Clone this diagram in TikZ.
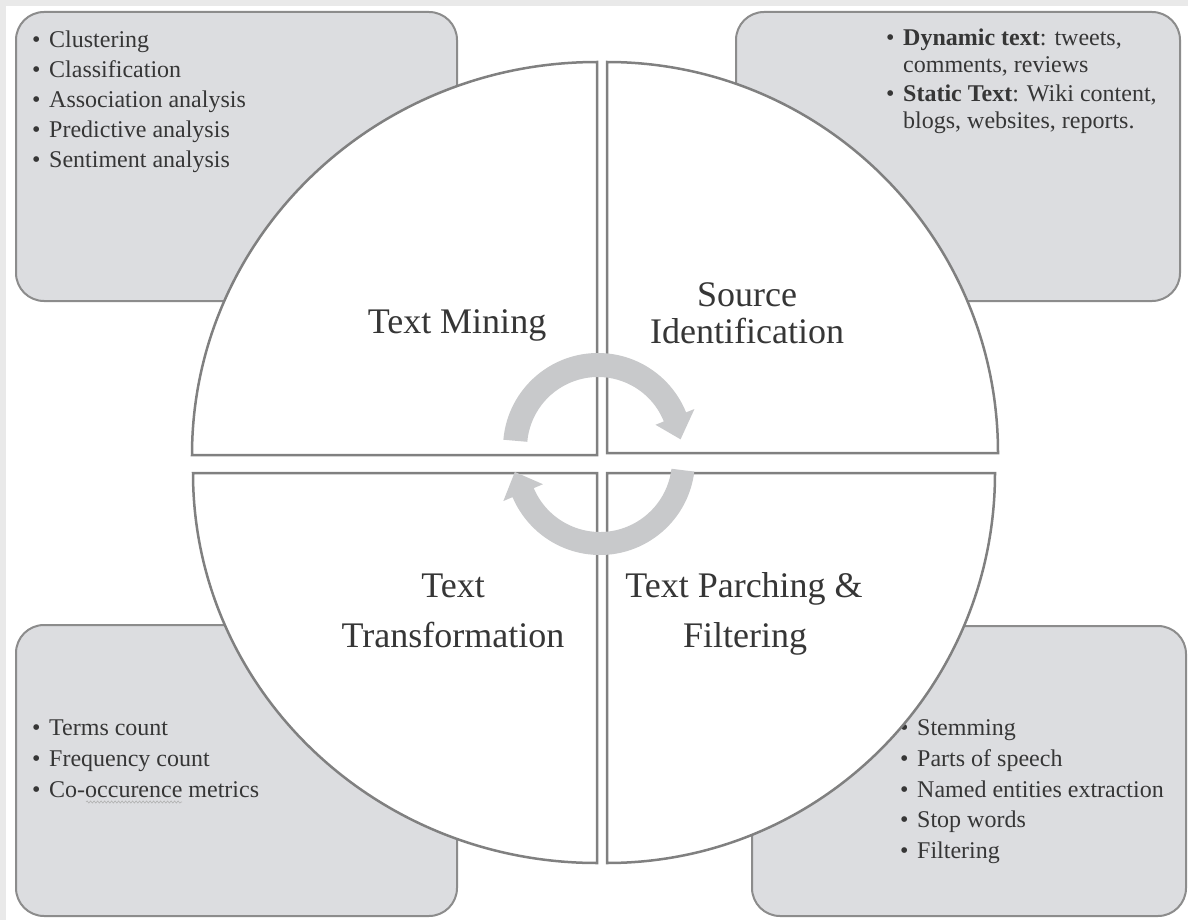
\documentclass[tikz,border=0pt]{standalone}
\usepackage{fontspec}
\setmainfont{Liberation Serif}
\usetikzlibrary{decorations.pathmorphing}
\definecolor{boxfill}{HTML}{DCDDE0}
\definecolor{boxline}{HTML}{8C8C8C}
\definecolor{quadline}{HTML}{808080}
\definecolor{arrowfill}{HTML}{C8C9CB}
\definecolor{txt}{HTML}{363636}
\definecolor{band}{HTML}{E9E9E9}
\newcommand\blt{\makebox[17pt][l]{\textbullet}}
\begin{document}
\begin{tikzpicture}[x=1pt,y=1pt,
  infobox/.style={draw=boxline, line width=2pt, fill=boxfill, rounded corners=28pt},
  quad/.style={draw=quadline, line width=2.5pt, fill=white, line join=miter},
  cyc/.style={fill=arrowfill},
  item/.style={anchor=base west, inner sep=0pt, text=txt, font=\fontsize{24}{28}\selectfont},
  big/.style={anchor=base, inner sep=0pt, text=txt, font=\fontsize{36}{40}\selectfont},
  spell/.style={draw=gray!60, line width=0.6pt, decorate, decoration={snake, amplitude=1.1pt, segment length=3.5pt}}]
\useasboundingbox (0,0) rectangle (1188,-920);
\fill[white] (0,0) rectangle (1188,-920);
\fill[band] (0,0) rectangle (1188,-6);
\fill[band] (0,0) rectangle (6,-920);

% corner boxes
\draw[infobox] (16,-12) rectangle (457,-301);
\draw[infobox] (736,-12) rectangle (1180,-301);
\draw[infobox] (16,-625) rectangle (457,-916);
\draw[infobox] (752,-626) rectangle (1186,-916);

% top-left list
\node[item] (tl1) at (32,-48) {\blt Clustering};
\node[item] (tl2) at (32,-78) {\blt Classification};
\node[item] (tl3) at (32,-108) {\blt Association analysis};
\node[item] (tl4) at (32,-138) {\blt Predictive analysis};
\node[item] (tl5) at (32,-168) {\blt Sentiment analysis};

% top-right list
\node[item] (tr1) at (886,-46) {\blt\textbf{Dynamic text}: tweets,};
\node[item] (tr2) at (903,-73) {comments, reviews};
\node[item] (tr3) at (886,-102) {\blt\textbf{Static Text}: Wiki content,};
\node[item] (tr4) at (903,-129) {blogs, websites, reports.};

% bottom-left list
\node[item] (bl1) at (32,-735) {\blt Terms count};
\node[item] (bl2) at (32,-766) {\blt Frequency count};
\node[item] (bl3) at (32,-797) {\blt Co-occurence metrics};
\draw[spell] (86,-802) -- (182,-802);

% bottom-right list
\node[item] (br1) at (900,-735) {\blt Stemming};
\node[item] (br2) at (900,-766) {\blt Parts of speech};
\node[item] (br3) at (900,-797) {\blt Named entities extraction};
\node[item] (br4) at (900,-827) {\blt Stop words};
\node[item] (br5) at (900,-858) {\blt Filtering};

% circle quadrants
\draw[quad] (597,-455) -- (192,-455) arc[start angle=180, end angle=90, x radius=405, y radius=393] -- cycle;
\draw[quad] (607,-453) -- (607,-62) arc[start angle=90, end angle=0, x radius=391, y radius=391] -- cycle;
\draw[quad] (597,-473) -- (193,-473) arc[start angle=180, end angle=270, x radius=404, y radius=390] -- cycle;
\draw[quad] (607,-473) -- (607,-863) arc[start angle=270, end angle=360, x radius=388, y radius=390] -- cycle;

% circular arrows
\begin{scope}[shift={(598,-448)}]
  \fill[cyc] (175:95) arc[start angle=175, end angle=22, radius=95]
    -- (22:104) -- (6:83) -- (22:62) -- (22:71)
    arc[start angle=22, end angle=175, radius=71] -- cycle;
\end{scope}
\begin{scope}[shift={(600,-460)}]
  \fill[cyc] (-7:95) arc[start angle=-7, end angle=-157, radius=95]
    -- (-157:105) -- (-172:86) -- (-157:62) -- (-157:72)
    arc[start angle=-157, end angle=-7, radius=72] -- cycle;
\end{scope}

% quadrant labels
\node[big] (tm) at (457,-333) {Text Mining};
\node[big] (si1) at (747,-306) {Source};
\node[big] (si2) at (747,-343) {Identification};
\node[big] (tt1) at (453,-597) {Text};
\node[big] (tt2) at (453,-647) {Transformation};
\node[big] (tp1) at (744,-597) {Text Parching \&};
\node[big] (tp2) at (745,-647) {Filtering};
\end{tikzpicture}
\end{document}
